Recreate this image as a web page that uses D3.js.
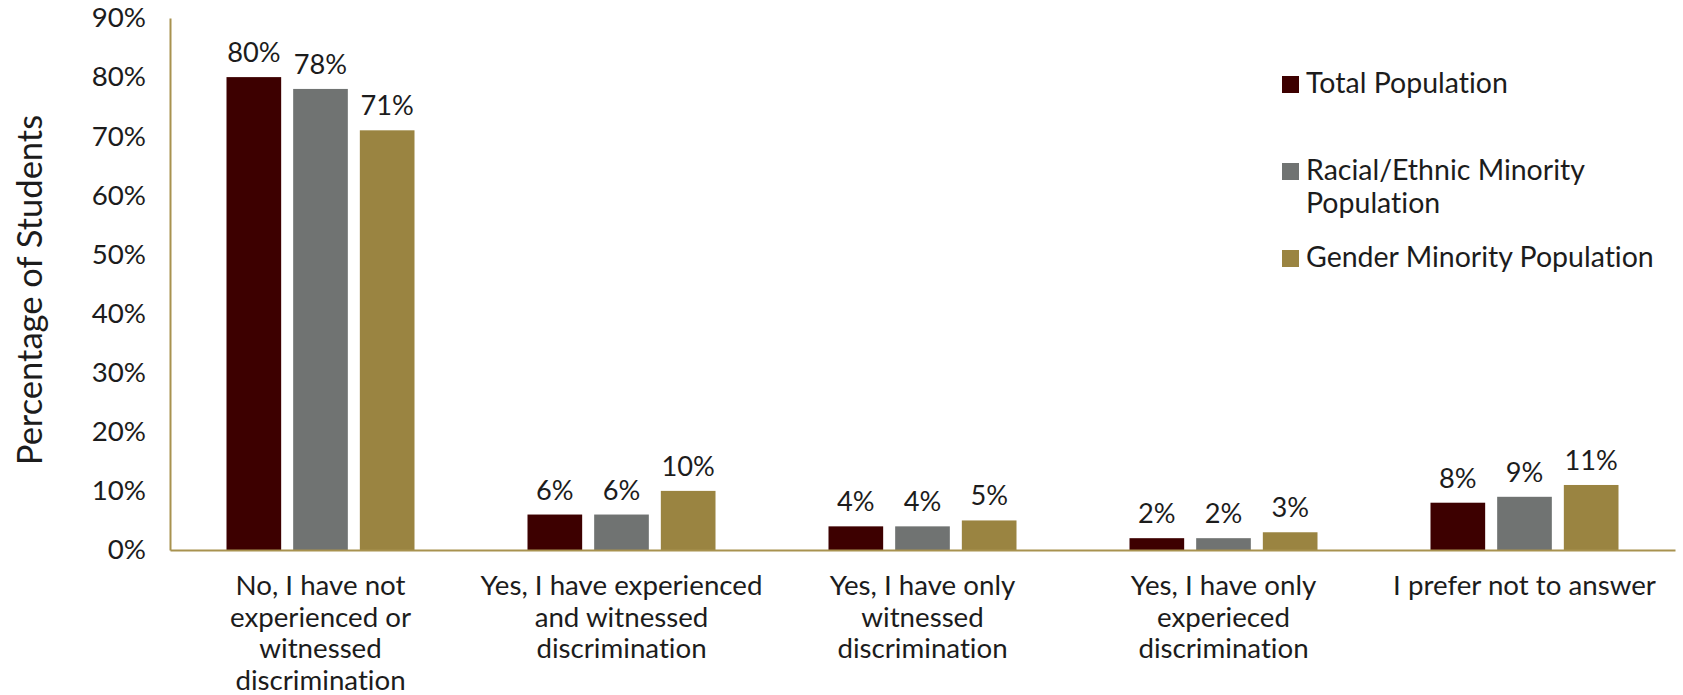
<!DOCTYPE html>
<html><head><meta charset="utf-8">
<script src="https://cdn.jsdelivr.net/npm/d3@7"></script>
<style>
body{margin:0;background:#fff;}
text{font-family:Lato, "Open Sans", sans-serif;font-weight:400;fill:#1c1c1c;font-variant-ligatures:none;}
</style></head>
<body><svg id="c" width="1683" height="695"></svg>
<script>
const categories = [
  ["No, I have not", "experienced or", "witnessed", "discrimination"],
  ["Yes, I have experienced", "and witnessed", "discrimination"],
  ["Yes, I have only", "witnessed", "discrimination"],
  ["Yes, I have only", "experieced", "discrimination"],
  ["I prefer not to answer"]
];
const series = ["Total Population", "Racial/Ethnic Minority Population", "Gender Minority Population"];
const legendLines = [["Total Population"], ["Racial/Ethnic Minority", "Population"], ["Gender Minority Population"]];
const totalPop = [80, 6, 4, 2, 8];
const racialPop = [78, 6, 4, 2, 9];
const genderPop = [71, 10, 5, 3, 11];
const yTicks = [0, 10, 20, 30, 40, 50, 60, 70, 80, 90];
const colors = ["#3d0000", "#707372", "#9a8441"];

(function () {
const values = [totalPop, racialPop, genderPop];
const svg = d3.select("#c");
const mLeft = 170, mRight = 1675, mTop = 18, mBottom = 550;
const groupW = 188;

const x0 = d3.scaleBand().domain(d3.range(categories.length)).range([mLeft, mRight]).padding(0);
const x1 = d3.scaleBand().domain(d3.range(series.length)).range([0, groupW]).paddingInner(0.18).paddingOuter(0);
const y = d3.scaleLinear().domain([0, 90]).range([mBottom, mTop]);
const offset = (x0.bandwidth() - groupW) / 2;

// bars
series.forEach((s, si) => {
  const g = svg.append("g");
  g.selectAll("rect").data(values[si]).join("rect")
    .attr("x", (d, i) => x0(i) + offset + x1(si))
    .attr("y", d => y(d))
    .attr("width", x1.bandwidth())
    .attr("height", d => mBottom - y(d))
    .attr("fill", colors[si]);
  g.selectAll("text").data(values[si]).join("text")
    .attr("x", (d, i) => x0(i) + offset + x1(si) + x1.bandwidth() / 2)
    .attr("y", d => y(d) - 15)
    .attr("text-anchor", "middle")
    .attr("font-size", 27.2)
    .text(d => d + "%");
});

// y axis
const yAxis = d3.axisLeft(y).tickValues(yTicks).tickFormat(d => d + "%").tickSize(0).tickPadding(24);
const ya = svg.append("g").attr("transform", `translate(${mLeft},0)`).call(yAxis);
ya.select(".domain").attr("stroke", "#a8924f").attr("stroke-width", 2);
ya.selectAll("text").attr("font-size", 27.7).attr("fill", "#1c1c1c");

// x axis
const xAxis = d3.axisBottom(x0).tickSize(0).tickFormat("");
const xa = svg.append("g").attr("transform", `translate(0,${mBottom})`).call(xAxis);
xa.select(".domain").attr("stroke", "#a8924f").attr("stroke-width", 2);
xa.selectAll(".tick").each(function(d) {
  const t = d3.select(this).append("text")
    .attr("text-anchor", "middle")
    .attr("font-size", 27.7)
    .attr("fill", "#1c1c1c");
  categories[d].forEach((line, li) => {
    t.append("tspan").attr("x", 0).attr("y", 45 + li * 31.7).text(line);
  });
});

// y title
svg.append("text")
  .attr("transform", "translate(42,290) rotate(-90)")
  .attr("text-anchor", "middle")
  .attr("font-size", 34.5)
  .text("Percentage of Students");

// legend
const legendY = [93, 180, 267];
series.forEach((s, si) => {
  svg.append("rect").attr("x", 1282).attr("y", legendY[si] - 17).attr("width", 17).attr("height", 17).attr("fill", colors[si]);
  const t = svg.append("text").attr("font-size", 28.5);
  legendLines[si].forEach((line, li) => {
    t.append("tspan").attr("x", 1306).attr("y", legendY[si] + li * 33).text(line);
  });
});
})();
</script></body></html>
